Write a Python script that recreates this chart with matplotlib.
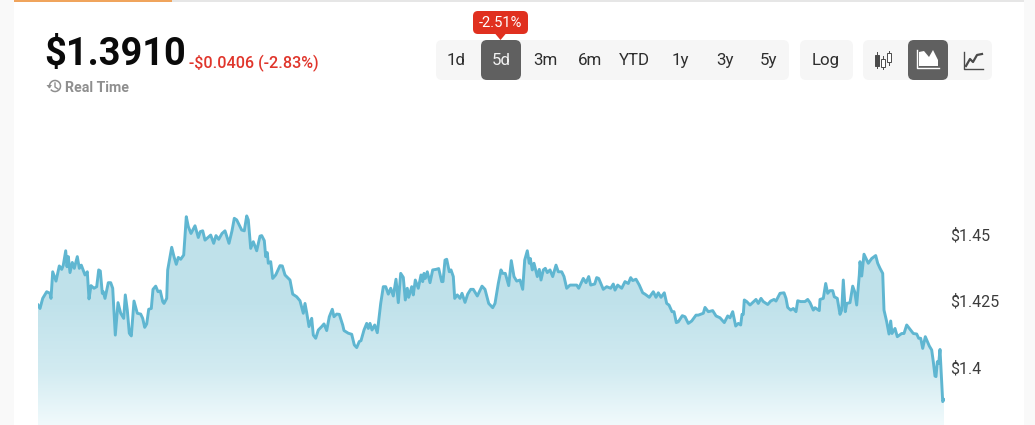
# price chart card, 5d view
import numpy as np
import matplotlib
matplotlib.use('Agg')
import matplotlib.pyplot as plt
from matplotlib.colors import LinearSegmentedColormap
from matplotlib.patches import FancyBboxPatch, Rectangle, Polygon, Arc

plt.rcParams['font.family'] = ['Roboto', 'DejaVu Sans']

t = [0, 2, 4.7, 8.7, 12, 13, 14.7, 18, 21.3, 23.7, 25.3, 27.7, 29, 30.3, 32, 34.3, 36.3, 39.3, 41.3, 43.3,
     47, 49.3, 51, 53, 56, 58.7, 60.7, 62.3, 64.3, 65.3, 67, 70.3, 72.7, 74.7, 77.3, 80, 82.7, 85.7, 87.3, 89.3,
     91.3, 93.3, 96, 99.3, 102.7, 104.7, 106.7, 108.7, 110.7, 113.3, 115, 117.7, 120, 122.3, 124.7, 126, 128.7, 129.7, 133.7, 136,
     138.3, 140.3, 142.7, 145.7, 148.3, 150.3, 153, 157, 160.3, 162.3, 164.7, 167, 172.7, 175.7, 178, 180.7, 184, 187, 191, 194,
     196.3, 198.7, 203.7, 206.3, 208.7, 210.3, 212.7, 215.3, 218.7, 222, 223.7, 226.3, 227.7, 229.3, 230.3, 232.7, 234.7, 237.7, 242, 244.3,
     247, 252, 254.7, 258.7, 262, 265.3, 267, 268.7, 271, 273.7, 275.3, 277.7, 280.3, 283.7, 286, 288.7, 291.3, 294.3, 296, 298.7,
     301.3, 304.7, 306, 310.3, 313.7, 316.3, 318.7, 321.3,
     323, 326, 328.7, 330.3, 332, 334, 336.7, 339.3, 342.7, 345.3, 347.7, 350.3, 352.7, 355.3, 358, 360.3, 362.7, 365.3, 367.3, 369.3,
     370.7, 373.7, 375.3, 377.3, 380.3, 383, 384.7, 386, 387.3, 389.3, 392, 394.7, 398, 400.7, 403.7, 405, 407, 408.7, 411.3, 413,
     415.3, 416.7, 419.3, 422, 424, 427, 429.7, 432.7, 435.3, 439.3, 444, 447, 450.7, 454.7, 457, 460.3, 463, 464.7, 467.3, 470.7,
     473.3, 476, 478.7, 482, 484.7, 486.7, 489.3, 491.3, 492.3, 494.3, 496, 499.3, 501.3, 503, 505.3, 507.3, 509.3, 512, 514.7, 518,
     520.3, 523.7, 526, 528.7, 532, 538.7, 540.7, 545.3, 548, 550.7, 552.7, 556.7, 558.7, 560.7, 565.3, 568.7, 572.7, 575.3, 577, 579.7,
     583.7, 587, 590.3, 592.7, 594.7, 598, 601.3, 604.7, 607, 611.3, 615.3, 618, 620.3, 623, 626.3, 628.7, 631, 634, 636, 638.3,
     640.3, 644.3, 647, 650.3,
     653.7, 658, 660.3, 665.3, 667, 670.3, 674.7, 678, 682, 686.3, 689.7, 692, 694.7, 697.7, 700.3, 702.7, 704, 705.3, 706.3, 708.7,
     712, 718, 720.3, 723, 725.3, 729.7, 732.7, 736, 738, 742, 746, 748, 749.7, 752.7, 755.3, 758, 759.7, 762.7, 767, 769.7,
     772, 775.3, 777, 781.3, 782, 785.3, 787.7, 789.7, 792, 794.7, 796.3, 799.3, 802, 803.7, 805.3, 807.3, 808.7, 812, 814.7, 816.7,
     818.7, 821.3, 822, 823.7, 826, 828, 830.3, 833.7, 837.7, 839.7, 842, 844.7, 846, 848.7, 851, 852.7, 854, 857, 859.3, 863.7,
     866, 868.7, 872, 875.3, 878.7, 880.7, 882.7, 884.7, 887.3, 891.3, 893.7, 895.3, 897, 898, 899.3, 900.7, 902, 904.7, 906]

price = [1.4233, 1.4220, 1.4258, 1.4283, 1.4277, 1.4258, 1.4358, 1.4323, 1.4380, 1.4367, 1.4383, 1.4437, 1.4377, 1.4415, 1.4355, 1.4393, 1.4371, 1.4415, 1.4371, 1.4383,
         1.4346, 1.4358, 1.4256, 1.4306, 1.4296, 1.4302, 1.4365, 1.4361, 1.4277, 1.4283, 1.4258, 1.4317, 1.4317, 1.4296, 1.4120, 1.4242, 1.4202, 1.4183, 1.4271, 1.4214,
         1.4127, 1.4117, 1.4248, 1.4202, 1.4199, 1.4183, 1.4149, 1.4162, 1.4217, 1.4220, 1.4292, 1.4304, 1.4283, 1.4286, 1.4246, 1.4239, 1.4258, 1.4365, 1.4450, 1.4415,
         1.4386, 1.4412, 1.4405, 1.4421, 1.4565, 1.4528, 1.4502, 1.4531, 1.4487, 1.4509, 1.4512, 1.4477, 1.4496, 1.4465, 1.4494, 1.4480, 1.4502, 1.4512, 1.4465, 1.4512,
         1.4559, 1.4553, 1.4515, 1.4512, 1.4568, 1.4553, 1.4446, 1.4471, 1.4437, 1.4492, 1.4494, 1.4475, 1.4415, 1.4430, 1.4390, 1.4396, 1.4333, 1.4346, 1.4381, 1.4380,
         1.4346, 1.4327, 1.4274, 1.4264, 1.4249, 1.4202, 1.4239, 1.4204, 1.4152, 1.4183, 1.4120, 1.4108, 1.4139, 1.4152, 1.4162, 1.4137, 1.4189, 1.4217, 1.4189, 1.4199,
         1.4198, 1.4158, 1.4137, 1.4127, 1.4123, 1.4083, 1.4073, 1.4096,
         1.4099, 1.4139, 1.4164, 1.4145, 1.4164, 1.4139, 1.4158, 1.4129, 1.4239, 1.4302, 1.4302, 1.4274, 1.4296, 1.4267, 1.4330, 1.4242, 1.4352, 1.4337, 1.4252, 1.4296,
         1.4262, 1.4302, 1.4271, 1.4327, 1.4296, 1.4346, 1.4321, 1.4352, 1.4333, 1.4358, 1.4317, 1.4365, 1.4367, 1.4370, 1.4321, 1.4321, 1.4402, 1.4405, 1.4358, 1.4365,
         1.4340, 1.4258, 1.4271, 1.4258, 1.4277, 1.4243, 1.4274, 1.4292, 1.4292, 1.4267, 1.4304, 1.4292, 1.4239, 1.4223, 1.4239, 1.4314, 1.4365, 1.4352, 1.4352, 1.4306,
         1.4400, 1.4340, 1.4323, 1.4327, 1.4292, 1.4402, 1.4437, 1.4390, 1.4408, 1.4365, 1.4390, 1.4340, 1.4367, 1.4327, 1.4365, 1.4371, 1.4355, 1.4365, 1.4340, 1.4383,
         1.4358, 1.4358, 1.4340, 1.4296, 1.4308, 1.4308, 1.4296, 1.4333, 1.4317, 1.4340, 1.4308, 1.4312, 1.4336, 1.4333, 1.4292, 1.4302, 1.4296, 1.4312, 1.4289, 1.4308,
         1.4296, 1.4321, 1.4314, 1.4336, 1.4325, 1.4330, 1.4308, 1.4279, 1.4274, 1.4262, 1.4283, 1.4262, 1.4279, 1.4262, 1.4279, 1.4239, 1.4233, 1.4208, 1.4208, 1.4167,
         1.4170, 1.4193, 1.4189, 1.4164,
         1.4173, 1.4195, 1.4195, 1.4202, 1.4224, 1.4208, 1.4212, 1.4192, 1.4185, 1.4167, 1.4192, 1.4185, 1.4208, 1.4154, 1.4164, 1.4158, 1.4198, 1.4198, 1.4252, 1.4246,
         1.4233, 1.4254, 1.4239, 1.4258, 1.4246, 1.4235, 1.4248, 1.4254, 1.4248, 1.4277, 1.4279, 1.4258, 1.4224, 1.4214, 1.4220, 1.4208, 1.4249, 1.4246, 1.4246, 1.4254,
         1.4242, 1.4214, 1.4223, 1.4212, 1.4254, 1.4258, 1.4314, 1.4277, 1.4287, 1.4287, 1.4264, 1.4258, 1.4198, 1.4214, 1.4327, 1.4208, 1.4239, 1.4242, 1.4304, 1.4283,
         1.4233, 1.4346, 1.4396, 1.4342, 1.4424, 1.4408, 1.4390, 1.4408, 1.4419, 1.4390, 1.4371, 1.4352, 1.4214, 1.4170, 1.4124, 1.4173, 1.4126, 1.4145, 1.4114, 1.4126,
         1.4126, 1.4158, 1.4142, 1.4126, 1.4124, 1.4108, 1.4108, 1.4070, 1.4114, 1.4079, 1.4064, 1.4020, 1.3966, 1.3964, 1.4020, 1.4014, 1.4066, 1.3870, 1.3878]

y_ticks = [1.4, 1.425, 1.45]
y_labels = ['$1.4', '$1.425', '$1.45']
ranges = ['1d', '5d', '3m', '6m', 'YTD', '1y', '3y', '5y']
range_x = [456, 501, 545, 590, 634, 680, 725, 769]

W, H = 1035, 425
fig = plt.figure(figsize=(W / 100, H / 100), dpi=100, facecolor='#f9f9f9')

# white card behind everything
bg = fig.add_axes([0, 0, 1, 1])
bg.set_xlim(0, W)
bg.set_ylim(H, 0)
bg.axis('off')
bg.add_patch(Rectangle((14, 0), 1010, H, fc='white', ec='none'))
bg.add_patch(Rectangle((172, 0), 852, 1.5, fc='#e6e6e6', ec='none'))
bg.add_patch(Rectangle((14, 0), 158, 1.5, fc='#f0a45c', ec='none'))

# chart area, x 38-945 px and y 130-425 px
ax = fig.add_axes([38 / W, 0, 907 / W, 295 / H])
ax.patch.set_alpha(0)
for s in ax.spines.values():
    s.set_visible(False)
ax.set_xticks([])
ax.yaxis.tick_right()
ax.set_yticks(y_ticks, y_labels)
ax.tick_params(axis='y', length=0, pad=4, labelsize=11.5, labelcolor='#3c3c3c')

area = ax.fill_between(t, price, 1.37, color='none')
cm = LinearSegmentedColormap.from_list('fade', [(0, '#bfe1ea'), (0.45, '#c0e2eb'), (0.75, '#d2ebf1'), (1, '#f1fafc')])
grad = np.linspace(0, 1, 256).reshape(-1, 1)
im = ax.imshow(grad, cmap=cm, aspect='auto', extent=[0, 907, 1.3782, 1.4600], zorder=1)
im.set_clip_path(area.get_paths()[0], transform=ax.transData)
ax.plot(t, price, color='#5fb6d1', lw=2.1, zorder=2, solid_joinstyle='round')
ax.set_xlim(0, 907)
ax.set_ylim(1.3782, 1.4891)

# header and buttons in pixel coordinates
ui = fig.add_axes([0, 0, 1, 1])
ui.set_xlim(0, W)
ui.set_ylim(H, 0)
ui.axis('off')
ui.patch.set_alpha(0)


def box(x0, y0, x1, y1, color, r=6):
    ui.add_patch(FancyBboxPatch((x0 + r, y0 + r), x1 - x0 - 2 * r, y1 - y0 - 2 * r,
                                boxstyle='round,pad=%d,rounding_size=%d' % (r, r), fc=color, ec='none'))


ui.text(44, 54, '$1.3910', fontsize=27.4, fontweight='bold', color='#0a0a0a', va='center', ha='left')
ui.text(189, 63, '-$0.0406 (-2.83%)', fontsize=11.6, fontweight='medium', color='#e0352b', va='center', ha='left')
ui.text(65, 87.5, 'Real Time', fontsize=10.2, fontweight='bold', color='#8f8f8f', va='center', ha='left')
ui.add_patch(Arc((55, 86), 11, 11, theta1=-200, theta2=140, ec='#8f8f8f', lw=1.1))
ui.plot([55, 55, 58], [83, 87, 89], color='#8f8f8f', lw=1)
ui.add_patch(Polygon([[46.5, 85], [52, 85], [49.2, 88.5]], fc='#8f8f8f', ec='none'))

box(436, 40, 789, 80, '#f6f6f6')
box(800, 40, 853, 80, '#f6f6f6')
box(863, 40, 992, 80, '#f6f6f6')
box(481, 40, 521, 80, '#606060')
box(908, 40, 948, 80, '#606060')

for lab, x in zip(ranges, range_x):
    ui.text(x, 60, lab, fontsize=12.2, color='#f2f2f2' if lab == '5d' else '#2e2e2e', ha='center', va='center')
ui.text(826, 60, 'Log', fontsize=12.2, color='#2e2e2e', ha='center', va='center')

box(473, 11, 528, 34, '#e0301f', r=5)
ui.add_patch(Polygon([[495, 33.5], [506, 33.5], [500.5, 40]], fc='#e0301f', ec='none'))
ui.text(500.5, 22.5, '-2.51%', fontsize=10.6, color='white', ha='center', va='center')

# candle icon
for x, y0, y1, b0, b1 in [(877, 52, 68, 55, 66), (883, 56, 69, 59, 67), (889, 51, 65, 53, 62)]:
    ui.plot([x, x], [y0, y1], color='#4a4a4a', lw=0.7)
    ui.add_patch(Rectangle((x - 1.6, b0), 3.2, b1 - b0, fc='#4a4a4a' if x == 877 else 'white', ec='#4a4a4a', lw=0.7, zorder=3))

# area icon
ui.plot([917, 917, 939], [50, 68, 68], color='white', lw=1)
ui.add_patch(Polygon([[919, 66], [919, 52], [924, 51], [929, 57], [933, 50], [938, 60], [938, 66]], fc='white', ec='none'))

# line icon
ui.plot([964, 964, 983], [52, 69, 69], color='#4a4a4a', lw=1)
ui.plot([966, 970, 973, 977, 982], [66, 59, 62, 55, 54], color='#4a4a4a', lw=1.6)

fig.savefig('out.png', dpi=100)
